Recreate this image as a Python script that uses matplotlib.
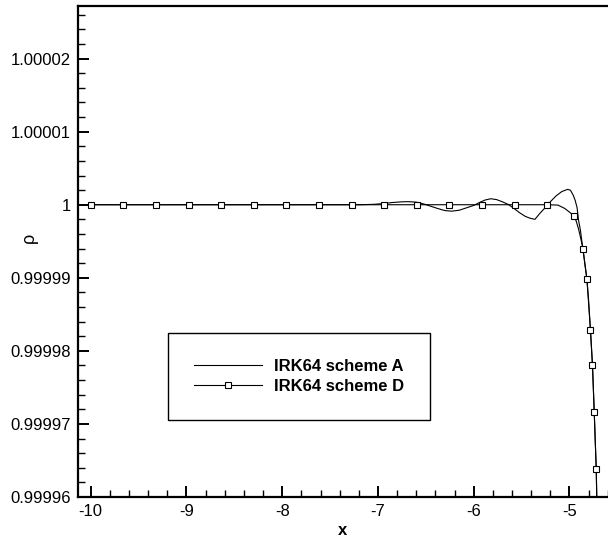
import matplotlib
matplotlib.use("Agg")
import matplotlib.pyplot as plt
from matplotlib.ticker import MultipleLocator

plt.rcParams['font.family'] = ['Liberation Sans', 'DejaVu Sans']
plt.rcParams['axes.unicode_minus'] = False

# IRK64 scheme A (plain line)
xa = [-10.0, -7.4, -7.2, -7.05, -6.95, -6.85, -6.75, -6.68, -6.6, -6.52,
      -6.45, -6.38, -6.3, -6.23, -6.15, -6.07, -6.0, -5.94, -5.88, -5.82,
      -5.76, -5.7, -5.64, -5.58, -5.52, -5.46, -5.41, -5.36, -5.31, -5.26,
      -5.2, -5.14, -5.08, -5.02, -4.99, -4.96, -4.94, -4.92, -4.905, -4.885,
      -4.869, -4.859, -4.84, -4.817, -4.8, -4.78, -4.759, -4.741, -4.72, -4.70]
rho_a = [1.0, 1.0, 1.0, 1.00000005, 1.00000015, 1.0000003, 1.0000004, 1.00000042, 1.00000035, 1.0000001,
         0.9999998, 0.9999995, 0.9999992, 0.99999912, 0.99999925, 0.9999996, 0.9999999, 1.0000003, 1.00000065, 1.00000082,
         1.0000007, 1.0000004, 1.00000005, 0.9999995, 0.9999989, 0.9999984, 0.99999815, 0.999998, 0.9999988, 0.9999995,
         1.0000004, 1.0000012, 1.0000018, 1.0000021, 1.000002, 1.0000013, 1.0000006, 0.9999996, 0.9999979, 0.9999965,
         0.9999949, 0.999994, 0.999992, 0.9999898, 0.999987, 0.9999828, 0.999978, 0.9999717, 0.9999639, 0.99995]

# IRK64 scheme D (line with square symbols, flag 1 = symbol drawn)
xd = [-10.0, -9.659, -9.319, -8.978, -8.638, -8.297, -7.956, -7.616, -7.275, -6.935,
      -6.594, -6.253, -5.913, -5.572, -5.232, -5.12, -5.05, -5.0, -4.957, -4.93,
      -4.905, -4.88, -4.859, -4.817, -4.78, -4.759, -4.741, -4.72, -4.70]
rho_d = [1.0, 1.0, 1.0, 1.0, 1.0, 1.0, 1.0, 1.0, 1.0, 1.0,
         1.0, 1.0, 1.0, 1.0, 1.0, 0.99999995, 0.9999995, 0.999999, 0.9999985, 0.9999978,
         0.9999967, 0.9999953, 0.999994, 0.9999898, 0.9999828, 0.999978, 0.9999717, 0.9999639, 0.99995]
d_mark = [1, 1, 1, 1, 1, 1, 1, 1, 1, 1,
          1, 1, 1, 1, 1, 0, 0, 0, 1, 0,
          0, 0, 1, 1, 1, 1, 1, 1, 0]

yticks = [0.99996, 0.99997, 0.99998, 0.99999, 1.0, 1.00001, 1.00002]
ylabels = ['0.99996', '0.99997', '0.99998', '0.99999', '1', '1.00001', '1.00002']
xticks = [-10, -9, -8, -7, -6, -5]
xlabels = ['-10', '-9', '-8', '-7', '-6', '-5']

fig = plt.figure(figsize=(6.08, 5.39), dpi=100)
ax = fig.add_axes([0.1275, 0.0779, 0.8725, 0.911])

ax.plot(xa, rho_a, color='black', lw=0.8, label='IRK64 scheme A')
marks = [i for i, m in enumerate(d_mark) if m]
ax.plot(xd, rho_d, color='black', lw=0.8, marker='s', ms=4.2, mfc='white',
        mec='black', mew=0.8, markevery=marks, label='IRK64 scheme D')

ax.set_xlim(-10.138, -4.597)
ax.set_ylim(0.99996, 1.0000272)

ax.set_xticks(xticks, labels=xlabels)
ax.set_yticks(yticks, labels=ylabels)
ax.xaxis.set_minor_locator(MultipleLocator(0.2))
ax.yaxis.set_minor_locator(MultipleLocator(0.000002))
ax.tick_params(which='both', direction='in', labelsize=12, top=False, right=False)
ax.tick_params(which='major', length=8, width=1.4, pad=5)
ax.tick_params(which='minor', length=5, width=1.0)

for s in ['left', 'bottom', 'top']:
    ax.spines[s].set_linewidth(1.6)
ax.spines['right'].set_visible(False)

ax.set_xlabel('x', fontsize=12, fontweight='bold')
ax.xaxis.set_label_coords(0.5, -0.052)
ax.set_ylabel('ρ', fontsize=13)
ax.yaxis.set_label_coords(-0.074, 0.527)

leg = ax.legend(loc='upper left', bbox_to_anchor=(0.1706, 0.334), borderaxespad=0,
                fancybox=False, framealpha=1, edgecolor='black', numpoints=1,
                handlelength=4.1, handletextpad=0.7, borderpad=1.55, labelspacing=0.3,
                prop={'size': 12, 'weight': 'bold'})
leg.get_frame().set_linewidth(1.0)

fig.savefig('out.png', dpi=100)
